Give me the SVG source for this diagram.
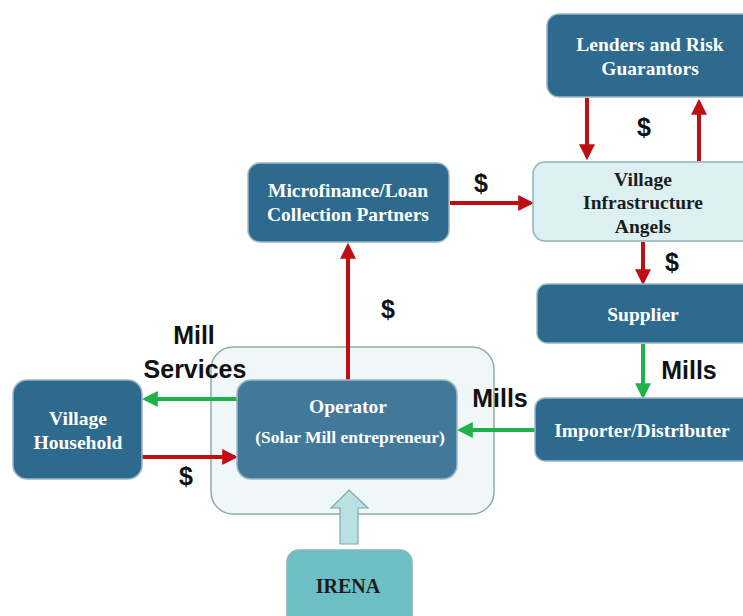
<svg xmlns="http://www.w3.org/2000/svg" width="743" height="616" viewBox="0 0 743 616">
  <defs>
    <marker id="redHead" markerWidth="4" markerHeight="4" refX="3.2" refY="2" orient="auto" markerUnits="strokeWidth">
      <path d="M0,0 L4,2 L0,4 Z" fill="#c00f14"/>
    </marker>
    <marker id="greenHead" markerWidth="4" markerHeight="4" refX="3.2" refY="2" orient="auto" markerUnits="strokeWidth">
      <path d="M0,0 L4,2 L0,4 Z" fill="#1fb24a"/>
    </marker>
    <style>
      .dark { fill: #2e6a8e; stroke: #9bb6c4; stroke-width: 1.5; }
      .op { fill: #42799b; stroke: #9bb6c4; stroke-width: 1.5; }
      .light { fill: #dcf0f2; stroke: #8fb2b8; stroke-width: 1.5; }
      .lbl { font-family: "Liberation Serif", "Times New Roman", serif; font-weight: bold; font-size: 19.5px; text-anchor: middle; fill: #ffffff; }
      .lblDark { font-family: "Liberation Serif", "Times New Roman", serif; font-weight: bold; font-size: 19.5px; text-anchor: middle; fill: #1c1c1c; }
      .flow { font-family: "Liberation Sans", Arial, sans-serif; font-weight: bold; font-size: 25px; fill: #111111; text-anchor: middle; }
      .red { stroke: #c00f14; stroke-width: 4; fill: none; marker-end: url(#redHead); }
      .green { stroke: #1fb24a; stroke-width: 4; fill: none; marker-end: url(#greenHead); }
    </style>
  </defs>

  <rect width="743" height="616" fill="#ffffff"/>

  <!-- operator enclosure -->
  <g id="operator-zone">
    <rect x="211" y="347" width="283" height="167" rx="22" fill="#f0f7f8" stroke="#8fa9ae" stroke-width="1.5"/>
  </g>

  <!-- connectors -->
  <g id="connectors">
    <line class="red" x1="587" y1="98" x2="587" y2="157"/>
    <line class="red" x1="699" y1="161" x2="699" y2="102"/>
    <line class="red" x1="450" y1="203" x2="531" y2="203"/>
    <line class="red" x1="643" y1="242" x2="643" y2="282"/>
    <line class="green" x1="643" y1="344" x2="643" y2="396"/>
    <line class="green" x1="535" y1="430" x2="460" y2="430"/>
    <line class="red" x1="348" y1="380" x2="348" y2="246"/>
    <line class="green" x1="237" y1="399" x2="145" y2="399"/>
    <line class="red" x1="142" y1="457" x2="235" y2="457"/>
    <!-- IRENA support arrow -->
    <path d="M340,544 L340,508 L331,508 L349,490 L368,508 L358,508 L358,544 Z" fill="#b9e1e4" stroke="#7fa8ac" stroke-width="1.2"/>
  </g>

  <!-- flow labels -->
  <g id="flow-labels">
    <text class="flow" x="644" y="136">$</text>
    <text class="flow" x="481" y="192">$</text>
    <text class="flow" x="672" y="271">$</text>
    <text class="flow" x="388" y="318">$</text>
    <text class="flow" x="186" y="485">$</text>
    <text class="flow" x="689" y="379">Mills</text>
    <text class="flow" x="500" y="407">Mills</text>
    <text class="flow" x="194" y="344">Mill</text>
    <text class="flow" x="195" y="378">Services</text>
  </g>

  <g id="lenders">
    <rect class="dark" x="547" y="14" width="210" height="83" rx="12"/>
    <text class="lbl" x="650" y="51">Lenders and Risk</text>
    <text class="lbl" x="650" y="75">Guarantors</text>
  </g>

  <g id="angels">
    <rect class="light" x="533" y="162" width="224" height="79" rx="12"/>
    <text class="lblDark" x="643" y="186">Village</text>
    <text class="lblDark" x="643" y="209">Infrastructure</text>
    <text class="lblDark" x="643" y="233">Angels</text>
  </g>

  <g id="microfinance">
    <rect class="dark" x="248" y="163" width="201" height="79" rx="12"/>
    <text class="lbl" x="348" y="197">Microfinance/Loan</text>
    <text class="lbl" x="348" y="221">Collection Partners</text>
  </g>

  <g id="supplier">
    <rect class="dark" x="537" y="284" width="220" height="59" rx="10"/>
    <text class="lbl" x="643" y="321">Supplier</text>
  </g>

  <g id="importer">
    <rect class="dark" x="535" y="398" width="222" height="63" rx="10"/>
    <text class="lbl" x="642" y="437">Importer/Distributer</text>
  </g>

  <g id="household">
    <rect class="dark" x="13" y="380" width="129" height="99" rx="14"/>
    <text class="lbl" x="78" y="425">Village</text>
    <text class="lbl" x="78" y="449">Household</text>
  </g>

  <g id="operator">
    <rect class="op" x="237" y="380" width="220" height="99" rx="14"/>
    <text class="lbl" x="348" y="413">Operator</text>
    <text class="lbl" x="350" y="443" style="font-size:17.5px">(Solar Mill entrepreneur)</text>
  </g>

  <g id="irena">
    <rect x="287" y="550" width="125" height="80" rx="12" fill="#6cbfc4" stroke="#8fb2b8" stroke-width="1.5"/>
    <text x="348" y="593" font-family="Liberation Serif, 'Times New Roman', serif" font-weight="bold" font-size="20" text-anchor="middle" fill="#1c1c1c">IRENA</text>
  </g>
</svg>
